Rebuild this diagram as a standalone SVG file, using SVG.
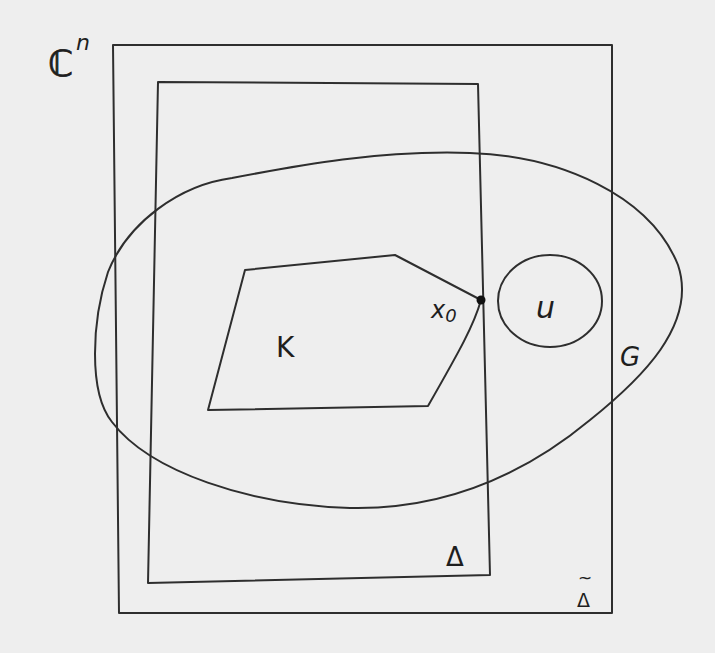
<svg xmlns="http://www.w3.org/2000/svg" width="715" height="653" viewBox="0 0 715 653">
<style>
.ln{fill:none;stroke:#2e2e2e;stroke-width:2;stroke-linejoin:round;stroke-linecap:round}
.lb{font-family:"DejaVu Sans","Liberation Sans",sans-serif;fill:#1e1e1e}
</style>
<rect width="715" height="653" fill="#eeeeee"/>
<g id="space-Cn">
<text class="lb" x="48" y="76" font-size="36" stroke="#1e1e1e" stroke-width="0.8">ℂ</text>
<text class="lb" x="76" y="50" font-size="22" font-style="italic">n</text>
</g>
<g id="delta-tilde">
<path class="ln" d="M113,45 L612,45 L612,613 L119,613 Z"/>
<text class="lb" x="577" y="607" font-size="19">Δ</text>
<text class="lb" x="578" y="584" font-size="17">~</text>
</g>
<g id="delta">
<path class="ln" d="M158,82 L478,84 L490,575 L148,583 Z"/>
<text class="lb" x="446" y="566" font-size="26">Δ</text>
</g>
<g id="G">
<path class="ln" d="M232,178 C300,165 380,150 470,153 C560,156 650,195 678,265 C698,325 640,380 590,420 C520,478 440,510 350,508 C250,505 150,472 112,422 C88,392 92,320 108,272 C128,222 180,185 232,178 Z"/>
<text class="lb" x="620" y="366" font-size="26" font-style="italic">G</text>
</g>
<g id="K">
<path class="ln" d="M245,270 L395,255 L481,300 C474,325 460,350 428,406 L208,410 Z"/>
<text class="lb" x="276" y="357" font-size="28">K</text>
</g>
<g id="x0">
<circle cx="481" cy="300" r="4.5" fill="#111"/>
<text class="lb" x="431" y="318" font-size="24" font-style="italic">x<tspan font-size="18" dy="4">0</tspan></text>
</g>
<g id="U">
<ellipse class="ln" cx="550" cy="301" rx="52" ry="46"/>
<text class="lb" x="536" y="318" font-size="30" font-style="italic">u</text>
</g>
</svg>
